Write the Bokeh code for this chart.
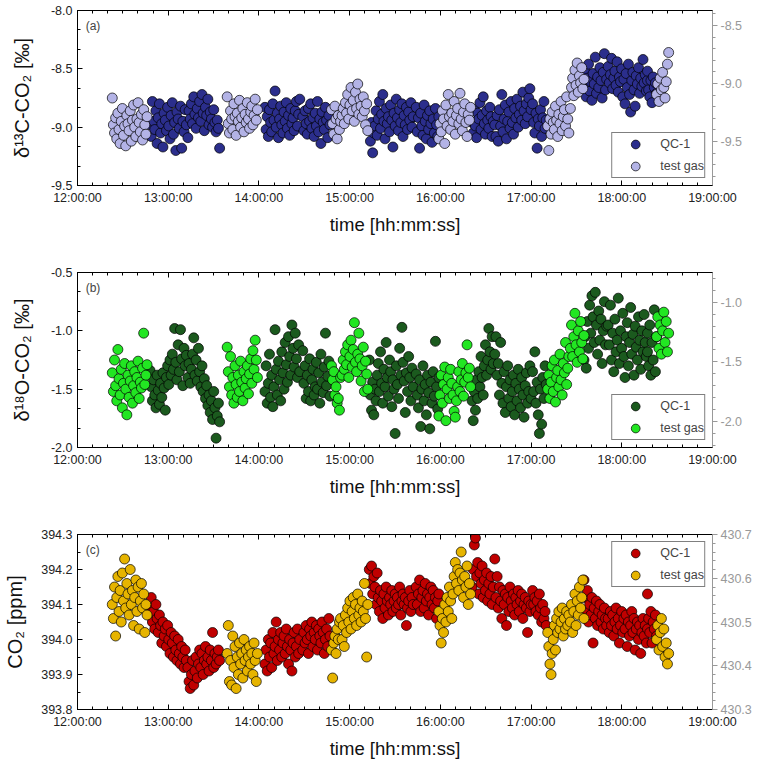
import numpy as np
from bokeh.plotting import figure
from bokeh.layouts import column
from bokeh.models import (Range1d, LinearAxis, FixedTicker, PrintfTickFormatter,
                          CustomJSTickFormatter, Label, Legend, LegendItem)
from bokeh.embed import file_html
from bokeh.resources import INLINE

# measurement blocks, same schedule in all three panels
block_start = ["12:23", "12:48", "13:13", "13:39", "14:04", "14:29", "14:48", "14:55",
               "15:13", "15:44", "15:59", "16:21", "16:36", "17:01", "17:11", "17:26",
               "17:35", "17:51", "18:17", "18:23"]
block_end = ["12:46", "13:12", "13:34", "13:59", "14:27", "14:47", "14:54", "15:12",
             "15:42", "15:59", "16:20", "16:35", "17:00", "17:10", "17:25", "17:35",
             "17:50", "18:17", "18:23", "18:31"]
block_gas = ["test gas", "QC-1", "QC-1", "test gas", "QC-1", "QC-1", "test gas", "test gas",
             "QC-1", "QC-1", "test gas", "QC-1", "QC-1", "QC-1", "test gas", "test gas",
             "QC-1", "QC-1", "QC-1", "test gas"]

# d13C-CO2 [permil], one list per block
d13c = [
    [-8.75, -8.98, -9.05, -8.92, -9.10, -8.88, -9.02, -9.14, -8.95, -8.84, -9.07, -8.99, -9.16, -8.90, -8.97, -9.03,
     -8.86, -9.12, -8.94, -8.81, -9.00, -9.08, -8.93, -8.79, -8.96, -9.04, -8.89, -9.11, -8.85, -8.98, -9.06, -8.91],
    [-8.98, -9.08, -8.78, -8.95, -9.02, -8.86, -9.14, -8.92, -8.80, -9.05, -8.97, -9.17, -8.88, -8.94, -9.03, -8.83,
     -8.99, -9.10, -8.90, -8.79, -9.06, -8.96, -9.20, -8.87, -8.93, -9.01, -8.82, -9.18, -8.95, -9.04, -8.85, -8.98],
    [-9.09, -8.86, -8.93, -8.80, -8.97, -8.74, -8.89, -9.01, -8.84, -8.92, -8.78, -8.95, -8.72, -8.88, -9.03, -8.83,
     -8.90, -8.76, -8.98, -8.87, -8.93, -9.00, -8.85, -8.96, -9.04, -8.94, -9.01, -9.18],
    [-8.74, -8.97, -9.05, -8.86, -8.93, -9.02, -8.80, -8.91, -9.07, -8.88, -8.95, -8.77, -9.00, -8.92, -8.84, -9.04,
     -8.89, -8.96, -8.79, -8.93, -9.01, -8.87, -8.82, -8.98, -8.90, -8.76, -8.94, -8.85],
    [-8.83, -9.02, -8.91, -9.08, -8.85, -8.96, -9.04, -8.80, -8.94, -8.69, -9.00, -8.88, -9.09, -8.93, -8.82, -8.98,
     -9.05, -8.87, -8.95, -8.79, -9.01, -8.90, -9.07, -8.84, -8.97, -8.92, -9.03, -8.86, -8.78, -8.99, -8.89, -8.76],
    [-8.91, -9.03, -8.86, -8.97, -9.06, -8.84, -8.95, -8.80, -9.01, -8.92, -9.08, -8.88, -8.99, -8.78, -9.04, -8.93,
     -9.14, -8.87, -8.96, -9.02, -8.83, -8.94, -9.09, -8.90, -8.98],
    [-8.85, -8.97, -9.06, -8.82, -8.93, -9.10, -8.90, -9.02, -8.95],
    [-8.90, -8.84, -8.97, -8.79, -8.88, -8.72, -8.93, -8.81, -8.66, -8.86, -8.77, -8.95, -8.70, -8.84, -8.63, -8.89,
     -8.76, -8.82, -8.91, -8.74, -8.86, -8.98, -8.80, -9.03],
    [-9.02, -9.12, -8.96, -9.22, -9.05, -8.99, -8.86, -9.07, -8.93, -8.78, -9.01, -8.89, -8.72, -8.95, -9.10, -8.84,
     -8.97, -8.91, -9.04, -8.81, -8.94, -9.17, -8.88, -8.99, -8.76, -8.92, -9.03, -8.85, -8.96, -8.80, -9.08, -8.90,
     -8.98, -8.83, -9.02, -8.87, -8.94, -8.79, -9.00, -8.91],
    [-8.83, -9.04, -8.92, -9.18, -8.88, -8.99, -9.07, -8.81, -8.95, -9.10, -8.90, -9.02, -8.86, -8.97, -9.13, -8.93,
     -9.05, -8.84, -8.98, -9.08, -8.91],
    [-9.10, -8.97, -9.04, -8.86, -8.93, -9.14, -8.81, -8.99, -8.72, -8.91, -9.02, -8.88, -8.95, -8.78, -9.06, -8.90,
     -8.84, -8.97, -8.71, -8.93, -9.03, -8.87, -8.80, -8.96, -9.08, -8.89, -8.94, -8.83],
    [-8.96, -9.05, -8.85, -8.99, -9.09, -8.88, -8.93, -8.79, -9.02, -8.90, -8.74, -8.97, -9.06, -8.86, -8.94, -9.01,
     -8.83, -8.91, -9.08, -8.95],
    [-8.98, -9.08, -8.90, -9.12, -8.85, -8.99, -8.72, -9.04, -8.93, -8.81, -9.10, -8.95, -8.87, -9.01, -8.78, -8.96,
     -9.06, -8.84, -8.92, -8.76, -9.00, -8.89, -8.82, -8.94, -8.70, -8.86, -8.97, -8.80, -8.91, -8.75, -8.67, -8.85],
    [-8.80, -8.96, -9.05, -8.88, -9.18, -8.93, -8.99, -8.85, -9.08, -8.92, -8.78, -9.01, -8.94],
    [-8.99, -9.20, -8.93, -9.06, -8.87, -8.96, -9.02, -8.82, -8.94, -9.08, -8.89, -8.97, -8.78, -9.03, -8.91, -8.85,
     -8.99, -8.74, -8.93, -9.05],
    [-8.84, -8.66, -8.58, -8.73, -8.51, -8.64, -8.45, -8.70, -8.56, -8.62, -8.49, -8.67, -8.59],
    [-8.65, -8.52, -8.74, -8.58, -8.46, -8.69, -8.61, -8.77, -8.54, -8.63, -8.40, -8.71, -8.57, -8.66, -8.49, -8.60,
     -8.75, -8.53, -8.37, -8.68, -8.59],
    [-8.48, -8.62, -8.55, -8.41, -8.67, -8.58, -8.52, -8.64, -8.44, -8.70, -8.57, -8.61, -8.50, -8.74, -8.59, -8.80,
     -8.54, -8.66, -8.46, -8.72, -8.87, -8.60, -8.53, -8.68, -8.82, -8.56, -8.63, -8.49, -8.71, -8.58, -8.65, -8.42,
     -8.62, -8.55, -8.69, -8.60],
    [-8.52, -8.68, -8.74, -8.60, -8.79, -8.57, -8.66, -8.62, -8.71],
    [-8.72, -8.63, -8.78, -8.58, -8.68, -8.53, -8.66, -8.75, -8.61, -8.46, -8.36],
]

# d18O-CO2 [permil]
d18o = [
    [-1.36, -1.52, -1.25, -1.47, -1.60, -1.16, -1.41, -1.55, -1.33, -1.66, -1.45, -1.28, -1.50, -1.72, -1.38, -1.57,
     -1.43, -1.30, -1.62, -1.47, -1.35, -1.53, -1.40, -1.26, -1.58, -1.44, -1.49, -1.32, -1.02, -1.46, -1.38, -1.29],
    [-1.34, -1.48, -1.60, -1.42, -1.55, -1.66, -1.38, -1.51, -1.63, -1.45, -1.57, -1.36, -1.49, -1.68, -1.40, -1.30,
     -1.46, -1.25, -1.38, -1.20, -1.33, -0.98, -1.27, -1.42, -1.12, -1.35, -0.99, -1.24, -1.47, -1.15, -1.30, -1.21],
    [-1.40, -1.28, -1.45, -1.33, -1.20, -1.06, -1.38, -1.25, -1.43, -1.15, -1.35, -1.48, -1.30, -1.52, -1.41, -1.58,
     -1.47, -1.64, -1.55, -1.70, -1.60, -1.76, -1.52, -1.66, -1.92, -1.73, -1.62, -1.78],
    [-1.14, -1.35, -1.48, -1.22, -1.55, -1.40, -1.62, -1.30, -1.46, -1.57, -1.38, -1.52, -1.26, -1.44, -1.60, -1.35,
     -1.49, -1.41, -1.30, -1.54, -1.37, -1.24, -1.45, -1.17, -1.33, -1.08, -1.25, -1.40],
    [-1.52, -1.30, -1.62, -1.45, -1.20, -1.57, -1.38, -1.65, -1.48, -0.99, -1.33, -1.55, -1.26, -1.42, -1.60, -1.18,
     -1.36, -1.50, -1.10, -1.29, -1.44, -1.05, -1.22, -1.38, -0.95, -1.15, -1.31, -1.02, -1.24, -1.40, -1.12, -1.35],
    [-1.17, -1.45, -1.30, -1.58, -1.38, -1.52, -1.24, -1.60, -1.42, -1.33, -1.55, -1.48, -1.27, -1.50, -1.36, -1.62,
     -1.20, -1.44, -1.53, -1.31, -1.02, -1.47, -1.39, -1.26, -1.56],
    [-1.30, -1.42, -1.35, -1.55, -1.48, -1.62, -1.58, -1.68, -1.40],
    [-1.38, -1.25, -1.33, -1.18, -1.29, -1.12, -1.40, -1.22, -1.08, -1.31, -1.16, -0.93, -1.27, -1.35, -1.20, -1.02,
     -1.24, -1.43, -1.30, -1.14, -1.52, -1.26, -1.37, -1.50],
    [-1.25, -1.55, -1.68, -1.44, -1.72, -1.50, -1.60, -1.38, -1.28, -1.52, -1.18, -1.45, -1.62, -1.33, -1.48, -1.10,
     -1.40, -1.56, -1.25, -1.35, -1.65, -1.42, -1.50, -1.88, -1.30, -1.46, -1.58, -1.15, -1.38, -0.97, -1.27, -1.43,
     -1.70, -1.36, -1.52, -1.22, -1.40, -1.60, -1.32, -1.48],
    [-1.37, -1.55, -1.66, -1.42, -1.82, -1.50, -1.30, -1.60, -1.46, -1.72, -1.38, -1.53, -1.84, -1.44, -1.62, -1.35,
     -1.56, -1.09, -1.48, -1.67, -1.40],
    [-1.73, -1.55, -1.38, -1.62, -1.46, -1.31, -1.77, -1.50, -1.40, -1.58, -1.33, -1.45, -1.55, -1.69, -1.74, -1.60,
     -1.48, -1.35, -1.52, -1.42, -1.28, -1.56, -1.44, -1.36, -1.12, -1.40, -1.32, -1.48],
    [-1.60, -1.77, -1.52, -1.68, -1.42, -1.58, -1.35, -1.48, -1.22, -1.40, -1.55, -1.30, -1.12, -1.38, -1.25, -0.98,
     -1.18, -1.33, -1.05, -1.28],
    [-1.20, -1.05, -1.38, -1.28, -1.55, -1.10, -1.45, -1.62, -1.35, -1.70, -1.48, -1.30, -1.58, -1.42, -1.65, -1.52,
     -1.38, -1.72, -1.45, -1.60, -1.33, -1.50, -1.66, -1.40, -1.55, -1.74, -1.47, -1.36, -1.62, -1.52, -1.30, -1.58],
    [-1.35, -1.52, -1.18, -1.62, -1.44, -1.72, -1.88, -1.50, -1.80, -1.40, -1.58, -1.30, -1.46],
    [-1.50, -1.38, -1.58, -1.44, -1.30, -1.52, -1.25, -1.61, -1.40, -1.34, -1.48, -1.20, -1.42, -1.55, -1.28, -1.36,
     -1.10, -1.46, -1.32, -1.22],
    [-1.15, -0.95, -1.22, -1.05, -0.85, -1.12, -1.27, -1.00, -1.18, -0.92, -1.10, -1.24, -1.04],
    [-1.25, -1.05, -1.32, -0.92, -1.15, -0.78, -1.02, -0.70, -0.88, -1.10, -0.67, -0.95, -1.20, -0.83, -1.08, -0.90,
     -1.28, -1.00, -0.75, -1.12, -0.96],
    [-0.95, -1.12, -0.78, -1.25, -1.02, -1.35, -0.90, -1.18, -1.08, -0.72, -1.28, -1.00, -1.15, -0.85, -1.22, -1.40,
     -1.05, -0.93, -1.30, -1.10, -0.80, -1.20, -1.03, -1.38, -0.96, -1.14, -1.25, -0.88, -1.08, -1.33, -1.00, -1.18,
     -0.86, -1.10, -1.22, -1.02],
    [-1.18, -1.30, -0.95, -1.38, -1.10, -1.25, -0.82, -1.35, -1.05],
    [-1.05, -0.88, -1.15, -0.95, -1.20, -1.00, -0.84, -1.10, -0.92, -1.18, -1.02],
]

# CO2 [ppm]
co2 = [
    [394.10, 394.06, 394.15, 394.01, 394.12, 394.18, 394.08, 394.14, 394.05, 394.19, 394.11, 394.23, 394.09, 394.16,
     394.13, 394.07, 394.20, 394.10, 394.14, 394.04, 394.12, 394.17, 394.08, 394.15, 394.03, 394.11, 394.16, 394.09,
     394.13, 394.02, 394.10, 394.07],
    [394.09, 394.12, 394.05, 394.08, 394.03, 394.10, 394.06, 394.02, 394.07, 394.04, 393.99, 394.05, 394.01, 394.03,
     393.98, 394.04, 394.00, 393.96, 394.02, 393.99, 393.95, 394.01, 393.97, 393.94, 394.00, 393.96, 393.93, 393.98,
     393.95, 393.92, 393.97, 393.94],
    [393.92, 393.88, 393.86, 393.90, 393.94, 393.87, 393.91, 393.95, 393.89, 393.93, 393.97, 393.92, 393.96, 393.90,
     393.94, 393.98, 393.93, 393.95, 393.91, 393.97, 393.94, 394.02, 393.92, 393.96, 393.93, 393.95, 393.97, 393.94],
    [393.96, 394.04, 393.88, 393.94, 393.87, 394.01, 393.92, 393.98, 393.86, 393.95, 393.90, 393.99, 393.93, 393.96,
     393.89, 394.00, 393.94, 393.97, 393.91, 393.95, 393.98, 393.93, 393.96, 393.90, 393.99, 393.94, 393.88, 393.96],
    [393.93, 393.97, 393.91, 394.00, 393.95, 393.99, 393.92, 394.02, 393.96, 393.98, 394.05, 393.94, 394.00, 393.97,
     394.02, 393.95, 393.99, 394.01, 393.96, 394.03, 393.98, 393.93, 394.00, 393.97, 393.91, 393.99, 394.02, 393.95,
     393.98, 394.03, 393.96, 394.00],
    [393.97, 394.02, 393.99, 394.04, 394.00, 393.96, 394.03, 394.01, 394.05, 393.98, 394.02, 394.00, 394.04, 393.97,
     394.03, 394.01, 393.99, 394.05, 394.02, 393.96, 394.00, 394.03, 393.98, 394.06, 394.01],
    [393.97, 393.89, 393.99, 394.01, 393.96, 394.03, 394.00, 394.05, 394.06],
    [394.00, 394.04, 393.98, 394.07, 394.02, 394.09, 394.05, 394.11, 394.03, 394.08, 394.12, 394.06, 394.10, 394.04,
     394.13, 394.07, 394.09, 394.05, 394.11, 394.08, 394.16, 394.06, 393.95, 394.10],
    [394.20, 394.16, 394.21, 394.13, 394.18, 394.15, 394.10, 394.19, 394.12, 394.08, 394.14, 394.11, 394.06, 394.13,
     394.09, 394.15, 394.11, 394.07, 394.12, 394.10, 394.14, 394.08, 394.11, 394.13, 394.09, 394.12, 394.10, 394.15,
     394.07, 394.11, 394.13, 394.10, 394.12, 394.04, 394.09, 394.11, 394.14, 394.08, 394.12, 394.10],
    [394.15, 394.10, 394.13, 394.17, 394.08, 394.12, 394.14, 394.09, 394.16, 394.11, 394.13, 394.07, 394.12, 394.15,
     394.10, 394.14, 394.09, 394.12, 394.06, 394.11, 394.13],
    [394.08, 394.04, 393.99, 394.06, 394.02, 394.10, 394.05, 394.12, 394.08, 394.15, 394.11, 394.06, 394.13, 394.18,
     394.22, 394.16, 394.20, 394.14, 394.19, 394.25, 394.17, 394.12, 394.18, 394.15, 394.21, 394.10, 394.16, 394.13],
    [394.15, 394.20, 394.27, 394.29, 394.18, 394.22, 394.13, 394.19, 394.16, 394.21, 394.12, 394.17, 394.14, 394.19,
     394.11, 394.16, 394.13, 394.18, 394.10, 394.15],
    [394.23, 394.12, 394.18, 394.09, 394.15, 394.11, 394.06, 394.14, 394.10, 394.13, 394.04, 394.12, 394.08, 394.15,
     394.11, 394.09, 394.13, 394.07, 394.12, 394.10, 394.14, 394.08, 394.11, 394.13, 394.06, 394.10, 394.12, 394.09,
     394.02, 394.11, 394.08, 394.10],
    [394.14, 394.10, 394.12, 394.08, 394.11, 394.07, 394.13, 394.09, 394.05, 394.10, 394.06, 394.08, 394.04],
    [394.02, 393.98, 393.93, 393.90, 393.96, 394.00, 394.04, 393.97, 394.06, 394.02, 394.08, 394.03, 394.05, 394.09,
     394.01, 394.06, 394.03, 394.08, 394.04, 394.07],
    [394.05, 394.10, 394.02, 394.08, 394.13, 394.04, 394.11, 394.07, 394.15, 394.09, 394.12, 394.17, 394.06],
    [394.17, 394.12, 394.08, 394.14, 394.05, 394.10, 394.07, 394.12, 393.99, 394.09, 394.06, 394.11, 394.04, 394.08,
     394.10, 394.05, 394.07, 394.03, 394.09, 394.06, 394.04],
    [394.06, 394.02, 394.08, 394.04, 394.07, 394.01, 394.05, 394.09, 394.03, 394.06, 393.99, 394.04, 394.08, 394.02,
     394.06, 394.03, 394.07, 393.98, 394.05, 394.01, 394.04, 394.08, 394.02, 394.06, 393.97, 394.03, 394.05, 394.00,
     394.04, 393.96, 394.02, 394.06, 394.01, 394.04, 393.99, 394.03],
    [394.13, 394.06, 394.02, 394.08, 393.99, 394.05, 394.03, 394.07, 394.01],
    [394.00, 394.04, 393.97, 394.02, 394.06, 393.98, 394.03, 393.95, 393.99, 393.93, 393.96],
]

hour_ticks = [12, 13, 14, 15, 16, 17, 18, 19]

FONT = "Liberation Sans"
TOP = 10


def hours(hhmm):
    h, m = hhmm.split(":")
    return int(h) + int(m) / 60.0


def split_series(values):
    out = {"QC-1": ([], []), "test gas": ([], [])}
    for s, e, gas, vals in zip(block_start, block_end, block_gas, values):
        t = np.linspace(hours(s), hours(e), len(vals))
        out[gas][0].extend(t)
        out[gas][1].extend(vals)
    return out


def steps(lo, hi, step):
    n = int(round((hi - lo) / step))
    return [lo + i * step for i in range(n + 1)]


def make_panel(values, yr, yticks, yminor, ylabel, title_standoff, rr, rticks, rminor, colors,
               tag, legend_loc, height, border_bottom):
    p = figure(width=758, height=height,
               x_range=Range1d(12, 19), y_range=Range1d(*yr),
               output_backend="svg", toolbar_location=None,
               min_border_left=77, min_border_right=46, min_border_top=TOP,
               min_border_bottom=border_bottom)
    p.grid.visible = False
    p.outline_line_color = "black"

    xticker = FixedTicker(ticks=hour_ticks, minor_ticks=steps(12, 19, 1 / 6))
    xa = p.xaxis[0]
    xa.ticker = xticker
    xa.formatter = CustomJSTickFormatter(code="return tick + ':00:00'")
    xa.axis_label = "time [hh:mm:ss]"
    xa.axis_label_standoff = 6

    ya = p.yaxis[0]
    ya.ticker = FixedTicker(ticks=yticks, minor_ticks=yminor)
    ya.formatter = PrintfTickFormatter(format="%.1f")
    ya.axis_label = ylabel
    ya.axis_label_standoff = title_standoff

    top = LinearAxis(ticker=xticker, formatter=CustomJSTickFormatter(code="return ''"),
                     major_label_standoff=0)
    p.add_layout(top, "above")

    for ax in (xa, ya, top):
        ax.major_tick_in = 5
        ax.major_tick_out = 0
        ax.minor_tick_in = 3
        ax.minor_tick_out = 0
        ax.axis_line_color = "black"
        ax.major_tick_line_color = "black"
        ax.minor_tick_line_color = "black"
        ax.major_label_text_font = FONT
        ax.major_label_text_font_size = "12.5px"
        ax.major_label_text_color = "#222222"
        ax.axis_label_text_font = FONT
        ax.axis_label_text_font_size = "18.5px"
        ax.axis_label_text_font_style = "normal"
        ax.axis_label_text_color = "#111111"
    ya.axis_label_text_font_size = "20px"

    p.extra_y_ranges = {"right": Range1d(*rr)}
    ra = LinearAxis(y_range_name="right", ticker=FixedTicker(ticks=rticks, minor_ticks=rminor),
                    formatter=PrintfTickFormatter(format="%.1f"))
    ra.major_tick_in = 0
    ra.major_tick_out = 5
    ra.minor_tick_in = 0
    ra.minor_tick_out = 3
    ra.axis_line_color = "#999999"
    ra.major_tick_line_color = "#999999"
    ra.minor_tick_line_color = "#999999"
    ra.major_label_text_color = "#999999"
    ra.major_label_text_font = FONT
    ra.major_label_text_font_size = "12.5px"
    ra.major_label_standoff = 3
    p.add_layout(ra, "right")

    data = split_series(values)
    rends = []
    for name, col in zip(["QC-1", "test gas"], colors):
        x, y = data[name]
        r = p.scatter(x, y, size=10, fill_color=col, line_color="black", line_width=0.7)
        rends.append((name, r))

    legend = Legend(items=[LegendItem(label=n, renderers=[r]) for n, r in rends],
                    location=legend_loc, margin=7, padding=0, spacing=-7,
                    glyph_width=46, glyph_height=22, label_height=22, label_standoff=2,
                    label_text_font=FONT, label_text_font_size="12.5px",
                    border_line_color="black", border_line_width=1,
                    background_fill_alpha=1.0)
    p.add_layout(legend)

    p.add_layout(Label(x=12.09, y=yr[1] - (yr[1] - yr[0]) * 0.09, text=tag,
                       text_font=FONT, text_font_size="12px", text_baseline="middle"))
    return p


pa = make_panel(d13c, (-9.5, -8.0), [-9.5, -9.0, -8.5, -8.0], steps(-9.5, -8.0, 0.5 / 3),
                "δ¹³C-CO₂ [‰]", 15, (-9.88, -8.37), [-9.5, -9.0, -8.5], steps(-9.8, -8.4, 0.1),
                ["#2B2E8C", "#B3B3E6"], "(a)", "bottom_right", 262, 77)
pb = make_panel(d18o, (-2.0, -0.5), [-2.0, -1.5, -1.0, -0.5], steps(-2.0, -0.5, 0.5 / 3),
                "δ¹⁸O-CO₂ [‰]", 15, (-2.217, -0.752), [-2.0, -1.5, -1.0], steps(-2.2, -0.8, 0.1),
                ["#1B5A1E", "#22E622"], "(b)", "bottom_right", 262, 77)
pc = make_panel(co2, (393.8, 394.3), [393.8, 393.9, 394.0, 394.1, 394.2, 394.3],
                steps(393.8, 394.3, 0.05), "CO₂ [ppm]", 12, (430.3, 430.7),
                [430.3, 430.4, 430.5, 430.6, 430.7], steps(430.3, 430.7, 0.02),
                ["#C00000", "#E6B400"], "(c)", "top_right", 240, 55)

layout = column(pa, pb, pc, spacing=0)
open("out.html", "w").write(file_html(layout, INLINE))
